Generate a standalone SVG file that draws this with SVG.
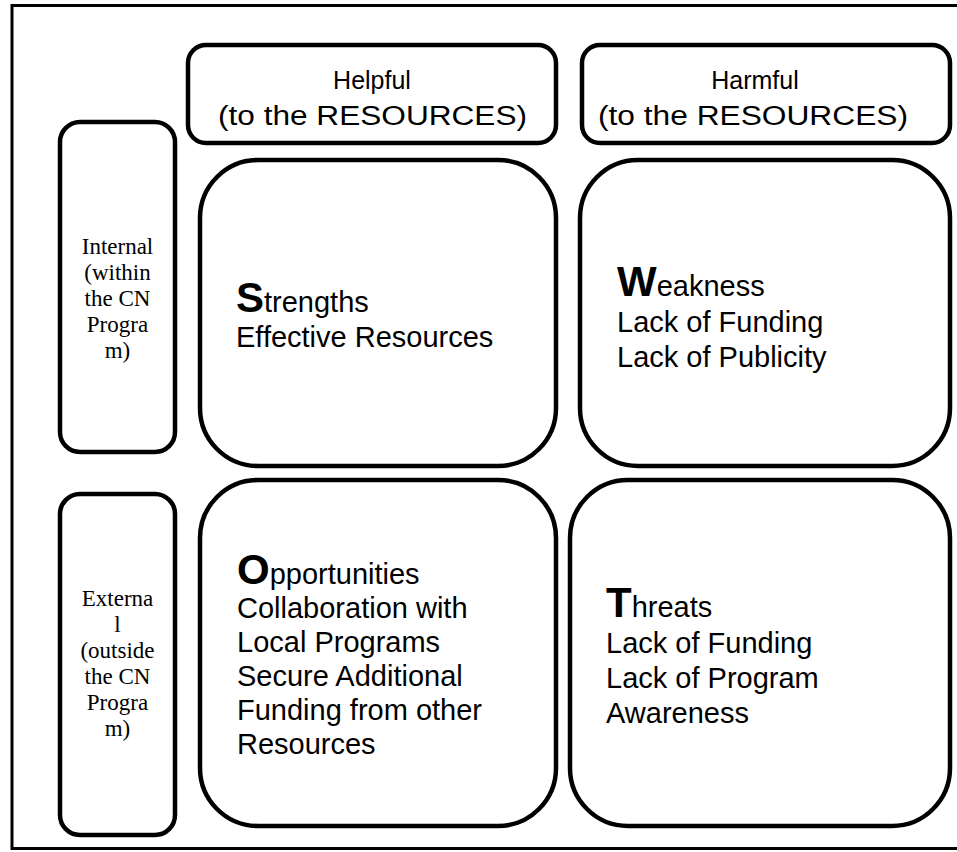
<svg xmlns="http://www.w3.org/2000/svg" width="957" height="852" viewBox="0 0 957 852">
<style>
.box{fill:#fff;stroke:#000;stroke-width:4.5}
.frame{fill:#fff;stroke:#000;stroke-width:3}
.sans{font-family:"Liberation Sans",Arial,sans-serif;fill:#000}
.serif{font-family:"Liberation Serif","Times New Roman",serif;fill:#000;font-size:23px}
.hdr{font-size:25px}
.hdr2{font-size:27px}
.body{font-size:29px}
.big{font-size:42px;font-weight:bold}
</style>
<rect class="frame" x="12" y="5.5" width="960" height="843"/>
<g id="helpful">
<rect class="box" x="188" y="45" width="368" height="98" rx="18"/>
<text class="sans hdr" text-anchor="middle" x="372" y="89">Helpful</text>
<text class="sans hdr2" x="218" y="125" textLength="309" lengthAdjust="spacingAndGlyphs">(to the RESOURCES)</text>
</g>
<g id="harmful">
<rect class="box" x="582" y="45" width="368" height="98" rx="18"/>
<text class="sans hdr" text-anchor="middle" x="755" y="89">Harmful</text>
<text class="sans hdr2" x="598" y="125" textLength="310" lengthAdjust="spacingAndGlyphs">(to the RESOURCES)</text>
</g>
<g id="internal">
<rect class="box" x="60" y="122" width="115" height="330" rx="20"/>
<text class="serif" text-anchor="middle"><tspan x="117.5" y="254">Internal</tspan><tspan x="117.5" y="280">(within</tspan><tspan x="117.5" y="306">the CN</tspan><tspan x="117.5" y="332">Progra</tspan><tspan x="117.5" y="358">m)</tspan></text>
</g>
<g id="external">
<rect class="box" x="60" y="494" width="115" height="341" rx="20"/>
<text class="serif" text-anchor="middle"><tspan x="117.5" y="606">Externa</tspan><tspan x="117.5" y="632">l</tspan><tspan x="117.5" y="658">(outside</tspan><tspan x="117.5" y="684">the CN</tspan><tspan x="117.5" y="710">Progra</tspan><tspan x="117.5" y="736">m)</tspan></text>
</g>
<g id="strengths">
<rect class="box" x="200" y="160" width="356" height="306" rx="58"/>
<text class="sans body"><tspan x="236" y="312"><tspan class="big">S</tspan>trengths</tspan><tspan x="236" y="347">Effective Resources</tspan></text>
</g>
<g id="weakness">
<rect class="box" x="580" y="160" width="370" height="306" rx="58"/>
<text class="sans body"><tspan x="617" y="296"><tspan class="big">W</tspan>eakness</tspan><tspan x="617" y="332">Lack of Funding</tspan><tspan x="617" y="367">Lack of Publicity</tspan></text>
</g>
<g id="opportunities">
<rect class="box" x="200" y="480" width="356" height="346" rx="58"/>
<text class="sans body"><tspan x="237" y="584"><tspan class="big">O</tspan>pportunities</tspan><tspan x="237" y="618">Collaboration with</tspan><tspan x="237" y="652">Local Programs</tspan><tspan x="237" y="686">Secure Additional</tspan><tspan x="237" y="720">Funding from other</tspan><tspan x="237" y="754">Resources</tspan></text>
</g>
<g id="threats">
<rect class="box" x="570" y="480" width="380" height="346" rx="58"/>
<text class="sans body"><tspan x="606" y="617"><tspan class="big">T</tspan>hreats</tspan><tspan x="606" y="653">Lack of Funding</tspan><tspan x="606" y="688">Lack of Program</tspan><tspan x="606" y="723">Awareness</tspan></text>
</g>
<g id="connectors"></g>
</svg>
